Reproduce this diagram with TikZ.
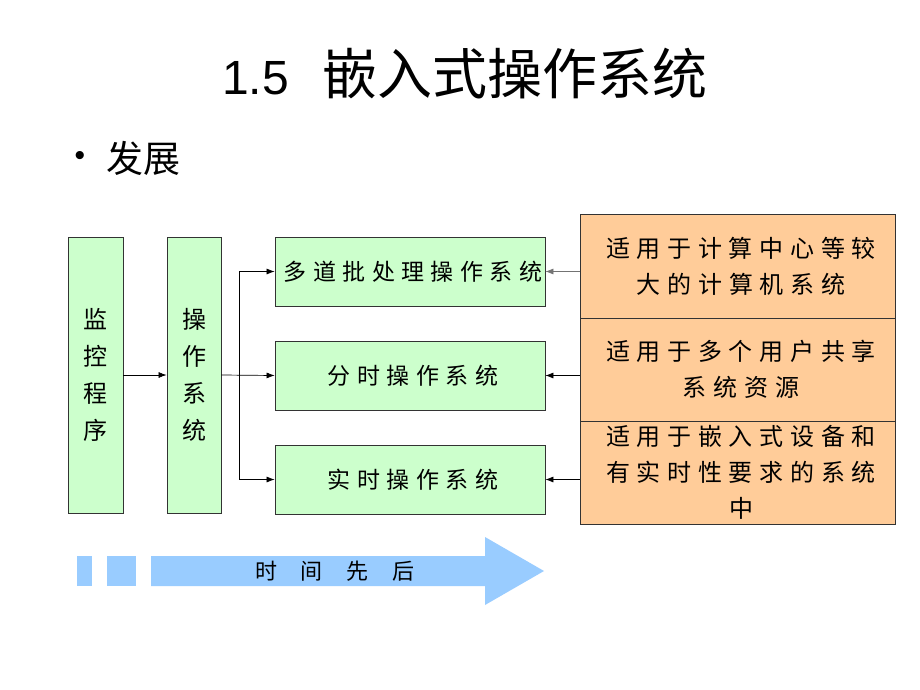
\documentclass[tikz,border=0pt]{standalone}
\usepackage{fontspec}
\setmainfont{Liberation Sans}
\newfontfamily\cjk{Noto Sans CJK SC}
\newfontfamily\cjksp[LetterSpace=28]{Noto Sans CJK SC}
\usetikzlibrary{arrows.meta}
\definecolor{gbox}{HTML}{CCFFCC}
\definecolor{obox}{HTML}{FFCC99}
\definecolor{tarrow}{HTML}{99CCFF}
\tikzset{
  gbx/.style={draw=black!80, line width=0.8pt, fill=gbox, inner sep=0pt, font=\cjksp\fontsize{23}{36}\selectfont},
  obx/.style={draw=black!80, line width=0.8pt, fill=obox, inner sep=0pt, align=center, minimum width=315pt, font=\cjksp\fontsize{24}{36}\selectfont},
  vtx/.style={align=center, font=\cjk\fontsize{24}{37}\selectfont},
  arr/.style={line width=0.7pt, -{Latex[length=8pt,width=6pt]}},
}
\begin{document}
\begin{tikzpicture}[x=1pt,y=-1pt]
\path[use as bounding box, fill=white] (0,0) rectangle (920,690);
% title
\node[anchor=west, inner sep=0pt] (title) at (222,74) {\fontsize{48}{52}\selectfont 1.5\hspace{34pt}{\cjk\fontsize{55}{58}\selectfont 嵌入式操作系统}};
\node[anchor=center, inner sep=0pt] (bul) at (80,158) {\fontsize{30}{34}\selectfont •};
\node[anchor=west, inner sep=0pt] (dev) at (106,158) {\cjk\fontsize{37}{40}\selectfont 发展};
% left boxes
\node[gbx, minimum width=55pt, minimum height=276pt] (mon) at (95.5,375) {};
\node[vtx] (monl) at (mon.center) {监\\控\\程\\序};
\node[gbx, minimum width=54pt, minimum height=276pt] (os) at (194,375) {};
\node[vtx] (osl) at (os.center) {操\\作\\系\\统};
% middle boxes
\node[gbx, minimum width=270pt, minimum height=69pt] (b1) at (410,271.5) {\hspace*{6pt}多道批处理操作系统};
\node[gbx, minimum width=270pt, minimum height=69pt] (b2) at (410,375.5) {\hspace*{6pt}分时操作系统};
\node[gbx, minimum width=270pt, minimum height=69pt] (b3) at (410,479.5) {\hspace*{6pt}实时操作系统};
% right boxes
\node[obx, minimum height=104pt] (o1) at (737.5,266) {\hspace*{7pt}适用于计算中心等较\\\hspace*{7pt}大的计算机系统};
\node[obx, minimum height=103pt] (o2) at (737.5,369.5) {\hspace*{7pt}适用于多个用户共享\\\hspace*{7pt}系统资源};
\node[obx, minimum height=103pt] (o3) at (737.5,472.5) {\hspace*{7pt}适用于嵌入式设备和\\\hspace*{7pt}有实时性要求的系统\\\hspace*{7pt}中};
% connectors
\coordinate (j) at (239,375);
\draw[arr] (mon.east) -- (os.west);
\draw[arr] (os.east) -- (b2.west);
\draw[line width=0.7pt] (j |- b1.west) -- (j |- b3.west);
\draw[arr] (j |- b1.west) -- (b1.west);
\draw[arr] (j |- b3.west) -- (b3.west);
\draw[arr, draw=black!55] (o1.west |- b1.east) -- (b1.east);
\draw[arr] (o2.west |- b2.east) -- (b2.east);
\draw[arr] (o3.west |- b3.east) -- (b3.east);
% time arrow
\fill[tarrow] (77,556) rectangle (92,586);
\fill[tarrow] (107,556) rectangle (136,586);
\fill[tarrow] (151,556) -- (485,556) -- (485,537) -- (544,571) -- (485,605) -- (485,586) -- (151,586) -- cycle;
\node[inner sep=0pt, font=\cjk\fontsize{22}{26}\selectfont] (time) at (335,571) {时\hspace{24pt}间\hspace{24pt}先\hspace{24pt}后};
\end{tikzpicture}
\end{document}
